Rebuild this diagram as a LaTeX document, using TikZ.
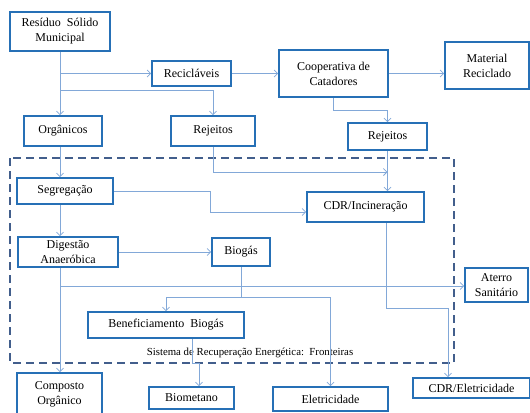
\documentclass[tikz,border=0pt]{standalone}
\usepackage{fontspec}
\setmainfont{Liberation Serif}
\usepackage{tikz}
\usetikzlibrary{arrows.meta,positioning,calc}

\definecolor{caixaazul}{RGB}{38,112,182}
\definecolor{linhaazul}{RGB}{130,168,216}
\definecolor{fronteira}{RGB}{66,94,140}

\begin{document}
\begin{tikzpicture}[x=1bp, y=-1bp, node distance=0.5cm, auto]
          \tikzstyle{bloco} = [rectangle, draw=caixaazul, line width=1.6bp, fill=white,
            text centered, align=center, inner sep=0pt,
            font=\fontsize{12bp}{15bp}\selectfont]
          \tikzstyle{seta} = [draw=linhaazul, line width=0.8bp,
            -{Straight Barb[length=3.5bp,width=7bp]}]
          \tikzstyle{linha} = [draw=linhaazul, line width=0.8bp]

          \useasboundingbox (0,0) rectangle (530,412);

          \draw[fronteira, line width=1.8bp, dash pattern=on 8bp off 5bp]
            (10,158) rectangle (454,363);
          \node[font=\fontsize{10.8bp}{13bp}\selectfont, anchor=base] (fronteiras) at (250,355)
            {Sistema de Recuperação Energética:\ \ Fronteiras};

          \node[bloco, minimum width=100bp, minimum height=39bp] (residuo) at (60,31.5)
            {Resíduo\ \ Sólido\\Municipal};
          \node[bloco, minimum width=79bp, minimum height=25bp] (reciclaveis) at (191.5,73.5)
            {Recicláveis};
          \node[bloco, minimum width=109bp, minimum height=47bp] (cooperativa) at (333.5,73.5)
            {Cooperativa de\\Catadores};
          \node[bloco, minimum width=84bp, minimum height=47bp] (material) at (487,65.5)
            {Material\\Reciclado};
          \node[bloco, minimum width=78bp, minimum height=30bp] (organicos) at (63,131)
            {Orgânicos};
          \node[bloco, minimum width=84bp, minimum height=30bp] (rejeitosA) at (213,131)
            {Rejeitos};
          \node[bloco, minimum width=79bp, minimum height=27bp] (rejeitosB) at (387.5,136.5)
            {Rejeitos};
          \node[bloco, minimum width=96bp, minimum height=26bp] (segregacao) at (65,191)
            {Segregação};
          \node[bloco, minimum width=117bp, minimum height=30bp] (incineracao) at (365.5,207)
            {CDR/Incineração};
          \node[bloco, minimum width=100bp, minimum height=30bp] (digestao) at (68,252)
            {Digestão\\Anaeróbica};
          \node[bloco, minimum width=58bp, minimum height=28bp] (biogas) at (241,252)
            {Biogás};
          \node[bloco, minimum width=63bp, minimum height=34bp] (aterro) at (496.5,285)
            {Aterro\\Sanitário};
          \node[bloco, minimum width=156bp, minimum height=26bp] (beneficiamento) at (166,325)
            {Beneficiamento\ \ Biogás};
          \node[bloco, minimum width=85bp, minimum height=42bp] (composto) at (59.5,394)
            {Composto\\Orgânico};
          \node[bloco, minimum width=85bp, minimum height=22bp] (biometano) at (191.5,398)
            {Biometano};
          \node[bloco, minimum width=115bp, minimum height=24bp] (eletricidade) at (330.5,399)
            {Eletricidade};
          \node[bloco, minimum width=117bp, minimum height=20bp] (cdreletricidade) at (471.5,388)
            {CDR/Eletricidade};

          \coordinate (tronco) at (60,90);
          \coordinate (desvio) at (333.5,110);
          \coordinate (rejeitoslinha) at (387.5,172);
          \coordinate (segdesvio) at (210,212);
          \coordinate (aterrolinha) at (60,286);
          \coordinate (biogasno) at (241,297);
          \coordinate (benefA) at (192,363);
          \coordinate (benefB) at (199,363);
          \coordinate (cdrA) at (386,308);
          \coordinate (cdrB) at (448,308);

          \path[seta] (residuo.south) -- (residuo.south |- organicos.north);
          \path[seta] (residuo.south |- reciclaveis.west) -- (reciclaveis.west);
          \path[seta] (tronco) -| (rejeitosA.north);
          \path[seta] (reciclaveis.east) -- (cooperativa.west);
          \path[seta] (cooperativa.east) -- (cooperativa.east -| material.west);
          \path[seta] (cooperativa.south) -- (desvio) -| (rejeitosB.north);
          \path[seta] (organicos.south -| tronco) -- (segregacao.north -| tronco);
          \path[seta] (rejeitosA.south) |- (rejeitoslinha);
          \path[seta] (rejeitosB.south) -- (rejeitosB.south |- incineracao.north);
          \path[seta] (segregacao.east) -| (segdesvio) -- (segdesvio -| incineracao.west);
          \path[seta] (segregacao.south -| tronco) -- (digestao.north -| tronco);
          \path[seta] (digestao.east) -- (biogas.west);
          \path[seta] (digestao.south -| tronco) -- (composto.north -| tronco);
          \path[seta] (aterrolinha) -- (aterrolinha -| aterro.west);
          \path[linha] (biogas.south) -- (biogasno);
          \path[seta] (biogasno) -| (beneficiamento.north);
          \path[seta] (biogasno) -| (eletricidade.north);
          \path[seta] (benefA |- beneficiamento.south) -- (benefA) -- (benefB)
            -- (benefB |- biometano.north);
          \path[seta] (cdrA |- incineracao.south) -- (cdrA) -- (cdrB)
            -- (cdrB |- cdreletricidade.north);
        \end{tikzpicture}
\end{document}
